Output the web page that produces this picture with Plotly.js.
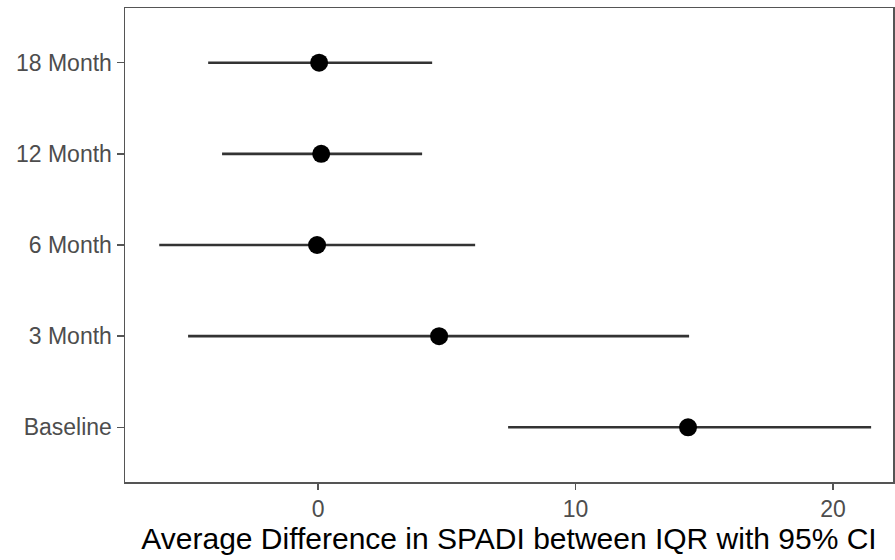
<!DOCTYPE html>
<html>
<head>
<meta charset="utf-8">
<script src="https://cdn.plot.ly/plotly-3.0.1.min.js"></script>
<style>html,body{margin:0;padding:0;background:#fff;}#chart{width:895px;height:560px;}</style>
</head>
<body>
<div id="chart"></div>
<script>
const categories = ["Baseline", "3 Month", "6 Month", "12 Month", "18 Month"];
const estimate = [14.37, 4.70, -0.04, 0.12, 0.04];
const lower = [7.38, -5.05, -6.17, -3.73, -4.27];
const upper = [21.48, 14.41, 6.10, 4.04, 4.43];
const xTickVals = [0, 10, 20];
const xTickText = ["0", "10", "20"];

const trace = {
  type: "scatter",
  mode: "markers",
  x: estimate,
  y: categories,
  marker: {color: "#000000", size: 18},
  error_x: {
    type: "data",
    symmetric: false,
    array: upper.map((u, i) => u - estimate[i]),
    arrayminus: estimate.map((e, i) => e - lower[i]),
    width: 0,
    thickness: 2.6,
    color: "#333333"
  },
  showlegend: false,
  hoverinfo: "x+y"
};

const layout = {
  width: 895,
  height: 560,
  margin: {l: 125, r: 2, t: 8, b: 78},
  paper_bgcolor: "#ffffff",
  plot_bgcolor: "#ffffff",
  font: {family: "Liberation Sans, Arial, sans-serif"},
  xaxis: {
    range: [-7.5, 22.33],
    tickvals: xTickVals,
    ticktext: xTickText,
    showgrid: false,
    zeroline: false,
    showline: true,
    mirror: true,
    linecolor: "#555555",
    linewidth: 1.5,
    ticks: "outside",
    ticklen: 6,
    tickwidth: 1.5,
    tickcolor: "#555555",
    tickfont: {size: 23, color: "#4d4d4d"},
    title: {text: "Average Difference in SPADI between IQR with 95% CI", font: {size: 30, color: "#000000"}, standoff: 6}
  },
  yaxis: {
    type: "category",
    categoryorder: "array",
    categoryarray: categories,
    range: [-0.6, 4.6],
    showgrid: false,
    zeroline: false,
    showline: true,
    mirror: true,
    linecolor: "#555555",
    linewidth: 1.5,
    ticks: "outside",
    ticklen: 7,
    tickwidth: 1.5,
    tickcolor: "#555555",
    tickfont: {size: 23, color: "#4d4d4d"}
  }
};

Plotly.newPlot("chart", [trace], layout, {displayModeBar: false, staticPlot: true});
</script>
</body>
</html>
